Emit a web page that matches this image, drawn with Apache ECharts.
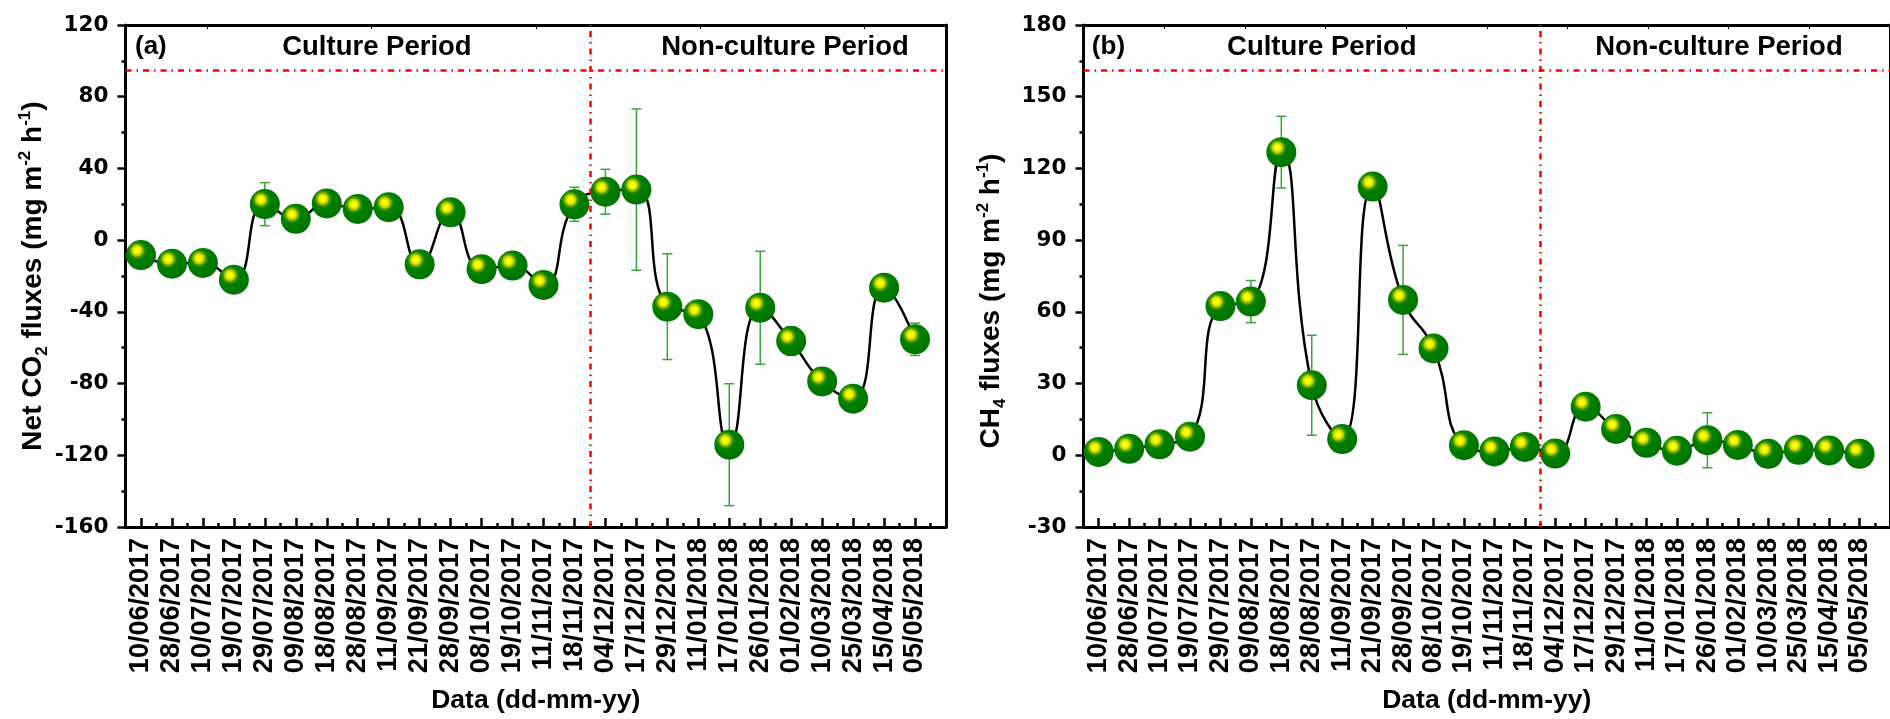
<!DOCTYPE html>
<html>
<head>
<meta charset="utf-8">
<script src="https://cdn.jsdelivr.net/npm/echarts@6/dist/echarts.min.js"></script>
<style>
  html, body { margin: 0; padding: 0; background: #ffffff; }
  #chart { width: 1890px; height: 719px; }
</style>
</head>
<body>
<div id="chart"></div>
<script>
// ---- data ----
const dates = ['10/06/2017', '28/06/2017', '10/07/2017', '19/07/2017', '29/07/2017', '09/08/2017',
  '18/08/2017', '28/08/2017', '11/09/2017', '21/09/2017', '28/09/2017', '08/10/2017', '19/10/2017',
  '11/11/2017', '18/11/2017', '04/12/2017', '17/12/2017', '29/12/2017', '11/01/2018', '17/01/2018',
  '26/01/2018', '01/02/2018', '10/03/2018', '25/03/2018', '15/04/2018', '05/05/2018'];
const co2 = [-8.3, -13.1, -12.7, -22.1, 20.1, 11.9, 20.5, 17.4, 18.4, -13.5, 15.5, -16.2, -14.2,
  -25.0, 20.0, 27.0, 28.2, -37.1, -41.3, -114.1, -37.7, -56.3, -78.8, -88.4, -26.5, -55.3];
const co2Err = [3, 3, 3, 3, 12, 4, 4, 3, 4, 4, 4, 3, 5, 3, 9.5, 12.5, 45, 29.5, 2, 34, 31.5, 8, 3, 3, 3, 9];
const ch4 = [1.4, 2.7, 4.6, 7.8, 62.4, 64.3, 126.8, 29.3, 6.8, 112.4, 65.0, 44.7, 4.2, 1.6, 3.5,
  0.7, 20.3, 11.0, 5.2, 1.9, 6.3, 4.3, 0.6, 2.3, 2.0, 0.6];
const ch4Err = [1.5, 1.5, 1.5, 2, 2, 8.8, 15, 20.9, 2, 2, 22.8, 2, 2, 1.5, 1.5, 1.5, 1.5, 1.5, 1.5, 1.5, 11.5, 1.5, 1, 1.5, 1.5, 1];
const co2Ticks = { min: -160, max: 120, interval: 40 };
const ch4Ticks = { min: -30, max: 180, interval: 30 };
const periodBoundary = 15.5;   // between 18/11/2017 and 04/12/2017
const co2PeriodLine = 95;
const ch4PeriodLine = 161;
const periodNames = ['Culture Period', 'Non-culture Period'];

// ---- styles ----
const BOLD = 'bold';
const ARIAL = '"Liberation Sans", Arial, sans-serif';
const DEJAVU = '"DejaVu Sans", sans-serif';
const markerColor = {
  type: 'radial', x: 0.37, y: 0.35, r: 0.62,
  colorStops: [
    { offset: 0, color: '#ffff40' },
    { offset: 0.12, color: '#ffff00' },
    { offset: 0.26, color: '#c4d400' },
    { offset: 0.38, color: '#3f9400' },
    { offset: 0.5, color: '#008000' },
    { offset: 1, color: '#007400' }
  ]
};

const catPos = dates.map((d, i) => i + 1);
const pts = arr => arr.map((v, i) => [catPos[i], v]);
const errPts = (arr, err) => arr.map((v, i) => [catPos[i], v, err[i]]);

function errRender(params, api) {
  const x = api.value(0), y = api.value(1), e = api.value(2);
  const t = api.coord([x, y + e]);
  const b = api.coord([x, y - e]);
  const hw = 5;
  const st = { stroke: '#3aa53a', lineWidth: 1.5 };
  return {
    type: 'group',
    children: [
      { type: 'line', shape: { x1: t[0], y1: t[1], x2: b[0], y2: b[1] }, style: st },
      { type: 'line', shape: { x1: t[0] - hw, y1: t[1], x2: t[0] + hw, y2: t[1] }, style: st },
      { type: 'line', shape: { x1: b[0] - hw, y1: b[1], x2: b[0] + hw, y2: b[1] }, style: st }
    ]
  };
}

const axisLine = { show: true, onZero: false, lineStyle: { color: '#000', width: 3 } };

function bottomAxes(grid) {
  return [
    { // major ticks + labels
      type: 'value', gridIndex: grid, position: 'bottom', min: 0.5, max: 27,
      axisLine: axisLine,
      axisTick: { show: true, inside: true, length: 9, customValues: catPos, lineStyle: { color: '#000', width: 2.5 } },
      splitLine: { show: false },
      axisLabel: {
        show: true, rotate: 90, margin: 11, color: '#000', customValues: catPos,
        fontFamily: ARIAL, fontWeight: BOLD, fontSize: 27,
        formatter: v => dates[Math.round(v) - 1] || ''
      },
      name: 'Data (dd-mm-yy)', nameLocation: 'middle', nameGap: 160,
      nameTextStyle: { color: '#000', fontFamily: ARIAL, fontWeight: BOLD, fontSize: 26.5 }
    },
    { // minor ticks
      type: 'value', gridIndex: grid, position: 'bottom', min: 0.5, max: 27, interval: 0.5,
      axisLine: { show: false, onZero: false },
      axisTick: { show: true, inside: true, length: 4, lineStyle: { color: '#000', width: 2.5 } },
      splitLine: { show: false }, axisLabel: { show: false }
    }
  ];
}

function topAxis(grid, min, max, ticks) {
  return {
    type: 'value', gridIndex: grid, position: 'top', min: min, max: max,
    axisLine: axisLine,
    axisTick: { show: true, inside: true, length: 4, customValues: ticks, lineStyle: { color: '#000', width: 1 } },
    splitLine: { show: false }, axisLabel: { show: false }
  };
}

function leftAxis(grid, ticks, name, padding) {
  return {
    type: 'value', gridIndex: grid, position: 'left',
    min: ticks.min, max: ticks.max, interval: ticks.interval,
    axisLine: axisLine,
    axisTick: { show: true, inside: false, length: 8, lineStyle: { color: '#000', width: 2.5 } },
    minorTick: { show: true, splitNumber: 2, length: 4, lineStyle: { color: '#000', width: 2.5 } },
    splitLine: { show: false },
    axisLabel: { show: true, margin: 17, color: '#000', fontFamily: DEJAVU, fontWeight: BOLD, fontSize: 21.5 },
    name: name, nameLocation: 'middle', nameRotate: 90, nameGap: 75,
    nameTextStyle: {
      color: '#000', fontFamily: ARIAL, fontWeight: BOLD, fontSize: 28, lineHeight: 34,
      padding: padding,
      rich: {
        sub: { fontFamily: ARIAL, fontWeight: BOLD, fontSize: 17, lineHeight: 17, verticalAlign: 'bottom', color: '#000' },
        sup: { fontFamily: ARIAL, fontWeight: BOLD, fontSize: 17, lineHeight: 17, verticalAlign: 'top', color: '#000' }
      }
    }
  };
}

function rightAxis(grid, ticks) {
  return {
    type: 'value', gridIndex: grid, position: 'right',
    min: ticks.min, max: ticks.max, interval: ticks.interval,
    axisLine: axisLine, axisTick: { show: false }, splitLine: { show: false }, axisLabel: { show: false }
  };
}

function panelSeries(xIdx, yIdx, values, errs, hLine, texts) {
  return [
    {
      type: 'custom', xAxisIndex: xIdx, yAxisIndex: yIdx, z: 1, silent: true,
      renderItem: errRender, data: errPts(values, errs)
    },
    {
      type: 'line', xAxisIndex: xIdx, yAxisIndex: yIdx, z: 2, smooth: 0.5,
      data: pts(values),
      symbol: 'circle', symbolSize: 30, showSymbol: true,
      lineStyle: { color: '#000', width: 2.5 },
      itemStyle: { color: markerColor, borderWidth: 0 },
      emphasis: { disabled: true },
      markLine: {
        silent: true, symbol: ['none', 'none'], label: { show: false },
        lineStyle: { color: '#ff0000', width: 2.5, type: [6, 5, 1.5, 5] },
        data: [{ yAxis: hLine }, { xAxis: periodBoundary }]
      },
      markPoint: {
        silent: true, symbol: 'circle', symbolSize: 0,
        label: {
          show: true, position: 'inside', color: '#000', fontFamily: ARIAL, fontWeight: BOLD, fontSize: 27.5,
          formatter: p => p.name
        },
        data: texts
      }
    }
  ];
}

const chart = echarts.init(document.getElementById('chart'), null, { renderer: 'canvas' });
const option = {
  backgroundColor: '#ffffff',
  animation: false,
  grid: [
    { left: 125.5, top: 25, width: 820.5, height: 503, containLabel: false },
    { left: 1083.5, top: 25, width: 820.5, height: 503, containLabel: false }
  ],
  xAxis: [
    ...bottomAxes(0),                        // 0,1
    topAxis(0, -0.5, 4.5, [0, 1, 2, 3, 4]),  // 2
    ...bottomAxes(1),                        // 3,4
    topAxis(1, 0, 10, [1, 2, 3, 4, 5, 6, 7, 8, 9]) // 5
  ],
  yAxis: [
    leftAxis(0, co2Ticks, 'Net CO{sub|2} fluxes (mg m{sup|-2} h{sup|-1})', [0, 0, 0, 0]),
    rightAxis(0, co2Ticks),
    leftAxis(1, ch4Ticks, 'CH{sub|4} fluxes (mg m{sup|-2} h{sup|-1})', [0, 50, 0, 0]),
    rightAxis(1, ch4Ticks)
  ],
  series: [
    ...panelSeries(0, 0, co2, co2Err, co2PeriodLine, [
      { name: '(a)', coord: [1.32, 107.8], label: { fontSize: 26 } },
      { name: periodNames[0], coord: [8.62, 107.5] },
      { name: periodNames[1], coord: [21.8, 107.5] }
    ]),
    ...panelSeries(3, 2, ch4, ch4Err, ch4PeriodLine, [
      { name: '(b)', coord: [1.32, 170.8], label: { fontSize: 26 } },
      { name: periodNames[0], coord: [8.33, 170.6] },
      { name: periodNames[1], coord: [21.38, 170.6] }
    ])
  ]
};
chart.setOption(option);
</script>
</body>
</html>
